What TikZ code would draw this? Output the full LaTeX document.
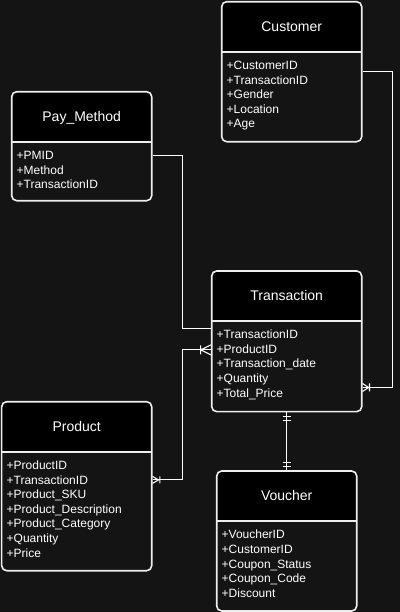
\documentclass[tikz,border=0pt]{standalone}
\usepackage{fontspec}
\setmainfont{Liberation Sans}
\usetikzlibrary{calc}
\definecolor{bgcol}{HTML}{141414}
\definecolor{linecol}{HTML}{EEEEEE}
\tikzset{
  entity/.style={draw=linecol, fill=bgcol, line width=1.2pt, rounded corners=3.75pt, inner sep=0pt,
    path picture={
      \fill[black, sharp corners] (path picture bounding box.north west) rectangle ([yshift=-37.5pt]path picture bounding box.north east);
      \draw[linecol, line width=1.2pt, sharp corners] ([yshift=-37.5pt]path picture bounding box.north west) -- ([yshift=-37.5pt]path picture bounding box.north east);
    }},
  enttitle/.style={anchor=base, text=white, inner sep=0pt, font=\fontsize{10.5pt}{12pt}\selectfont},
  attr/.style={anchor=base west, text=white, inner sep=0pt, font=\fontsize{9pt}{11pt}\selectfont},
  link/.style={draw=white, line width=0.8pt},
}
\begin{document}
\begin{tikzpicture}[x=0.75pt, y=-0.75pt]
    \useasboundingbox (0,0) rectangle (400,612);
    \fill[bgcol] (0,0) rectangle (400,612);

    % boxes
    \node[entity, minimum width=105pt, minimum height=105pt] (customer) at (291.7,71.7) {};
    \node[entity, minimum width=105pt, minimum height=81.75pt] (paymethod) at (81.7,146.2) {};
    \node[entity, minimum width=112.5pt, minimum height=105.5pt] (transaction) at (286.7,341.3) {};
    \node[entity, minimum width=112.5pt, minimum height=126.75pt] (product) at (76.7,486.2) {};
    \node[entity, minimum width=105pt, minimum height=105pt] (voucher) at (286.7,541) {};

    % titles
    \node[enttitle] (customer-t) at ($(customer.north)+(0,30.5)$) {Customer};
    \node[enttitle] (paymethod-t) at ($(paymethod.north)+(0,30.5)$) {Pay\_Method};
    \node[enttitle] (transaction-t) at ($(transaction.north)+(0,30.5)$) {Transaction};
    \node[enttitle] (product-t) at ($(product.north)+(0,30.5)$) {Product};
    \node[enttitle] (voucher-t) at ($(voucher.north)+(0,30.5)$) {Voucher};

    % fields
    \foreach \a [count=\i] in {+CustomerID,+TransactionID,+Gender,+Location,+Age}
        \node[attr] (customer-a\i) at ($(customer.north west)+(5.5,54+14.6*\i)$) {\a};
    \foreach \a [count=\i] in {+PMID,+Method,+TransactionID}
        \node[attr] (paymethod-a\i) at ($(paymethod.north west)+(5.5,54+14.6*\i)$) {\a};
    \foreach \a [count=\i] in {+TransactionID,+ProductID,+Transaction\_date,+Quantity,+Total\_Price}
        \node[attr] (transaction-a\i) at ($(transaction.north west)+(5.5,54+14.6*\i)$) {\a};
    \foreach \a [count=\i] in {+ProductID,+TransactionID,+Product\_SKU,+Product\_Description,+Product\_Category,+Quantity,+Price}
        \node[attr] (product-a\i) at ($(product.north west)+(5.5,54+14.6*\i)$) {\a};
    \foreach \a [count=\i] in {+VoucherID,+CustomerID,+Coupon\_Status,+Coupon\_Code,+Discount}
        \node[attr] (voucher-a\i) at ($(voucher.north west)+(5.5,54+14.6*\i)$) {\a};

    % links
    \coordinate (tc) at ($(transaction.north east)+(0,117.3)$);
    \coordinate (pm-out) at ($(paymethod.north east)+(0,64.6)$);
    \coordinate (t-pm) at ($(transaction.north west)+(0,58)$);
    \coordinate (pr-out) at ($(product.north east)+(0,79)$);
    \coordinate (t-pr) at ($(transaction.north west)+(0,79.7)$);
    \draw[link] (customer.east) -- ++(30,0) |- (tc);
    \draw[link] (pm-out) -- ++(30,0) |- (t-pm);
    \draw[link] (pr-out) -- ++(30,0) |- (t-pr);
    \draw[link] (transaction.south) -- (voucher.north);

    % ends
    \draw[link, shift={(tc)}] (0,-4) -- (6,0) -- (0,4) (7,-4) -- (7,4);
    \draw[link, shift={(pr-out)}] (0,-3.5) -- (6,0) -- (0,3.5) (7.3,-3.5) -- (7.3,3.5);
    \draw[link, shift={(t-pr)}] (0,-5) -- (-10,0) -- (0,5) (-10.3,-4.5) -- (-10.3,4.5);
    \draw[link, shift={(transaction.south)}] (-4,4.3) -- (4,4.3) (-4,7.6) -- (4,7.6);
    \draw[link, shift={(voucher.north)}] (-4,-3.7) -- (4,-3.7) (-4,-7.7) -- (4,-7.7);
\end{tikzpicture}
\end{document}
